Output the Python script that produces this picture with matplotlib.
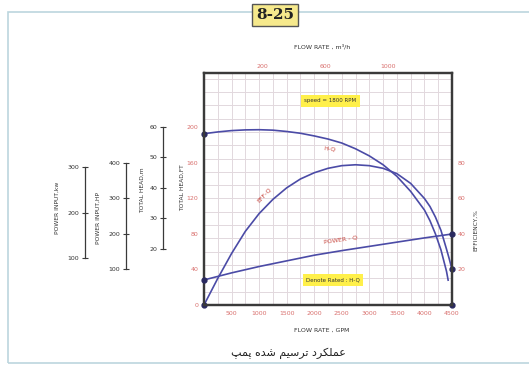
import numpy as np
import matplotlib
matplotlib.use("Agg")
import matplotlib.pyplot as plt
from matplotlib.patches import Rectangle

# dane (przeplyw w GPM)
gpm_hq = [0, 250, 500, 750, 1000, 1250, 1500, 1750, 2000, 2250, 2500, 2750, 3000, 3250,
          3500, 3750, 4000, 4100, 4200, 4300, 4350, 4400, 4430]
head_ft = [193, 195, 196.5, 197.3, 197.5, 197, 195.5, 193.5, 190.5, 187, 182.5, 176, 168, 158,
           145, 128, 107, 95, 80, 62, 50, 38, 28]

gpm_eff = [0, 250, 500, 750, 1000, 1250, 1500, 1750, 2000, 2250, 2500, 2750, 3000, 3250,
           3500, 3750, 4000, 4100, 4200, 4300, 4400, 4450, 4500]
eff_pct = [0, 15, 29, 41.5, 51.5, 59.5, 66, 71, 74.5, 77, 78.5, 79, 78.5, 77,
           74, 68.5, 60, 55.5, 49.5, 42, 31.5, 26, 20]

gpm_pow = [0, 500, 1000, 1500, 2000, 2500, 3000, 3500, 4000, 4500]
power_hp = [69, 89, 107, 123, 139, 152, 164, 176, 188, 199]

corner_gpm = [4500]
corner_ft = [0]

bottom_ticks = [500, 1000, 1500, 2000, 2500, 3000, 3500, 4000, 4500]
head_ticks = [0, 40, 80, 120, 160, 200]
eff_ticks = [20, 40, 60, 80]
top_pos = [1052, 2196, 3339]
top_labels = ["200", "600", "1000"]
head_m_ticks = [20, 30, 40, 50, 60]
hp_ticks = [100, 200, 300, 400]
kw_ticks = [100, 200, 300]

W, H = 529, 366
def fx(px):
    return px / W
def fy(py):
    return 1 - py / H

red = "#d9706e"
curve = "#4b4ba6"
dot = "#2a2a60"
dark = "#3a3a3a"

fig = plt.figure(figsize=(W / 100, H / 100), dpi=100)
fig.patch.set_facecolor("white")

# ramka i numer
fig.patches.append(Rectangle((fx(8), fy(363)), 1.2, fy(12) - fy(363), transform=fig.transFigure,
                             fill=False, edgecolor="#bcd6de", lw=1.2, zorder=0))
fig.text(fx(275), fy(15), "8-25", ha="center", va="center", fontsize=11, fontweight="bold",
         family="DejaVu Serif", color="#222",
         bbox=dict(boxstyle="square,pad=0.25", facecolor="#f6e98c", edgecolor="#555", lw=1))

ax = fig.add_axes([fx(204), fy(305), 248 / W, 232 / H])
ax.set_xlim(0, 4500)
ax.set_ylim(0, 261.4)
for g in np.arange(250, 4500, 250):
    ax.axvline(g, color="#e2d8dd", lw=0.7, zorder=0)
for g in np.arange(15, 261, 15):
    ax.axhline(g, color="#e2d8dd", lw=0.7, zorder=0)

ax.plot(gpm_hq, head_ft, color=curve, lw=1.2)
ax.plot(gpm_hq[0], head_ft[0], "o", color=dot, ms=3.5, clip_on=False)
ax.plot(corner_gpm, corner_ft, "o", color=dot, ms=3.5, clip_on=False)

ax.set_xticks(bottom_ticks)
ax.set_yticks(head_ticks)
ax.tick_params(length=0, labelsize=4.5, labelcolor=red, pad=4)
for s in ax.spines.values():
    s.set_color(dark)
    s.set_linewidth(1.6)

top = ax.secondary_xaxis("top")
top.set_xticks(top_pos)
top.set_xticklabels(top_labels)
top.tick_params(length=0, labelsize=4.5, labelcolor=red, pad=3)
top.spines["top"].set_visible(False)

# sprawnosc na prawej osi
ax2 = ax.twinx()
ax2.set_ylim(0, 130.7)
ax2.plot(gpm_eff, eff_pct, color=curve, lw=1.2)
ax2.plot(gpm_eff[0], eff_pct[0], "o", color=dot, ms=3.5, clip_on=False)
ax2.plot(gpm_eff[-1], eff_pct[-1], "o", color=dot, ms=3.5, clip_on=False)
ax2.set_yticks(eff_ticks)
ax2.tick_params(length=0, labelsize=4.5, labelcolor=red, pad=4)
for s in ax2.spines.values():
    s.set_color(dark)
    s.set_linewidth(1.6)

# moc (HP) - os niewidoczna, skala jak na osi HP po lewej
ax3 = ax.twinx()
ax3.set_ylim(-1.9, 654.7)
ax3.set_axis_off()
ax3.plot(gpm_pow, power_hp, color=curve, lw=1.2)
ax3.plot(gpm_pow[0], power_hp[0], "o", color=dot, ms=3.5, clip_on=False)
ax3.plot(gpm_pow[-1], power_hp[-1], "o", color=dot, ms=3.5, clip_on=False)

ax.text(2290, 176, "H-Q", color="#c8463e", fontsize=4.5, rotation=-8, ha="center", va="center")
ax.text(1100, 124, "EFF-Q", color="#c8463e", fontsize=4.5, rotation=47, ha="center", va="center")
ax.text(2470, 74, "POWER - Q", color="#c8463e", fontsize=4.5, rotation=8, ha="center", va="center")
ax.text(2290, 230, "speed = 1800 RPM", fontsize=4, color="#333", ha="center", va="center",
        bbox=dict(boxstyle="square,pad=0.6", facecolor="#fff04a", edgecolor="none"))
ax.text(2340, 28, "Denote Rated : H-Q", fontsize=4, color="#333", ha="center", va="center",
        bbox=dict(boxstyle="square,pad=0.6", facecolor="#fff04a", edgecolor="none"))

# dodatkowe osie po lewej
def extra_axis(xpix, lo, hi, ticks, bounds):
    a = fig.add_axes([fx(xpix), fy(305), 0.0001, 232 / H])
    a.set_ylim(lo, hi)
    a.patch.set_visible(False)
    for k in ["top", "right", "bottom"]:
        a.spines[k].set_visible(False)
    a.spines["left"].set_bounds(*bounds)
    a.spines["left"].set_color(dark)
    a.spines["left"].set_linewidth(0.9)
    a.set_xticks([])
    a.set_yticks(ticks)
    a.tick_params(axis="y", direction="inout", length=4, width=0.8, color=dark,
                  labelsize=4.5, labelcolor="#333", pad=2)
    return a

extra_axis(163, 1.64, 77.7, head_m_ticks, (20, 60))
extra_axis(126, -1.9, 654.7, hp_ticks, (100, 400))
extra_axis(85, -3.3, 506.6, kw_ticks, (100, 300))

lab = dict(fontsize=4.3, color="#333", rotation=90, ha="center", va="center")
fig.text(fx(182), fy(188), "TOTAL HEAD,FT", **lab)
fig.text(fx(142), fy(190), "TOTAL HEAD,m", **lab)
fig.text(fx(98), fy(218), "POWER INPUT,HP", **lab)
fig.text(fx(57), fy(208), "POWER INPUT,kw", **lab)
fig.text(fx(476), fy(230), "EFFICIENCY,%", **lab)

fig.text(fx(322), fy(47), "FLOW RATE , m\u00b3/h", fontsize=4.5, color="#333", ha="center", va="center")
fig.text(fx(322), fy(330), "FLOW RATE , GPM", fontsize=4.5, color="#333", ha="center", va="center")

# podpis po persku (formy prezentacyjne, kolejnosc wizualna)
pomp = "\uFB57\uFEE4\uFB58"
shode = "\uFEE9\uFEAA\uFEB7"
tarsim = "\uFEE2\uFBFF\uFEB3\uFEAE\uFE97"
amalkard = "\uFEA9\uFEAE\uFB91\uFEE0\uFEE4\uFECB"
fig.text(fx(288), fy(353), " ".join([pomp, shode, tarsim, amalkard]), fontsize=8,
         color="#222", ha="center", va="center")

fig.savefig("out.png", dpi=100)
